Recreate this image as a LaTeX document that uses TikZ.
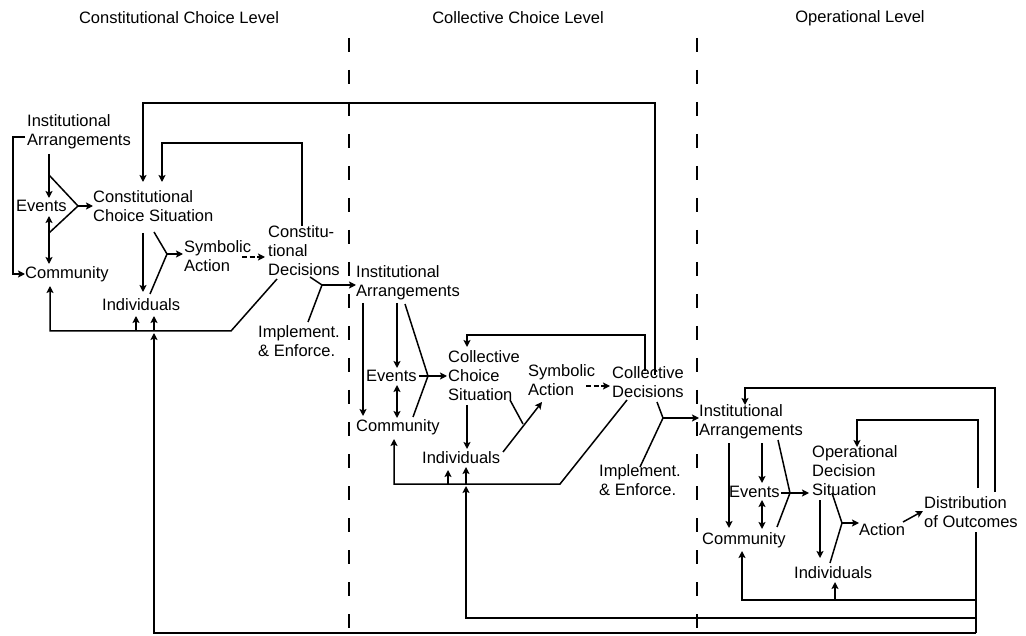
\documentclass[tikz,border=0pt]{standalone}
\usepackage{fontspec}
\setmainfont{Liberation Sans}
\usetikzlibrary{arrows.meta}
\begin{document}
\begin{tikzpicture}[x=1pt,y=-1pt,
  lbl/.style={inner sep=0pt, align=left, font=\fontsize{16.5}{19}\selectfont, anchor=west},
  hdr/.style={inner sep=0pt, font=\fontsize{16.5}{19}\selectfont},
  ln/.style={line width=1.5pt},
  arr/.style={ln, -{Stealth[length=7pt,width=7pt,inset=1.5pt]}},
  darr/.style={ln, {Stealth[length=7pt,width=7pt,inset=1.5pt]}-{Stealth[length=7pt,width=7pt,inset=1.5pt]}},
  brk/.style={ln, dash pattern=on 5pt off 2.5pt, -{Stealth[length=7pt,width=7pt,inset=1.5pt]}},
  lev/.style={line width=1.6pt, dash pattern=on 14pt off 18pt}
]
\useasboundingbox (0,0) rectangle (1026,636);
\fill[white] (0,0) rectangle (1026,636);

% headers
\node[hdr] (h1) at (179,18) {Constitutional Choice Level};
\node[hdr] (h2) at (518,18) {Collective Choice Level};
\node[hdr] (h3) at (860,18) {Operational Level};

% level separators
\coordinate (s1t) at (349,38); \coordinate (s1b) at (349,636);
\coordinate (s2t) at (697,38); \coordinate (s2b) at (697,636);
\draw[lev] (s1t) -- (s1b);
\draw[lev] (s2t) -- (s2b);

% ---------- constitutional level ----------
\node[lbl] (AIA) at (27,132) {Institutional\\Arrangements};
\node[lbl] (AEv) at (16,206) {Events};
\node[lbl] (ACo) at (25,274) {Community};
\node[lbl] (ACS) at (93,206) {Constitutional\\Choice Situation};
\node[lbl] (ASA) at (184,256) {Symbolic\\Action};
\node[lbl] (ACD) at (268,251) {Constitu-\\tional\\Decisions};
\node[lbl] (AIn) at (102,305) {Individuals};
\node[lbl] (AIE) at (258,341) {Implement.\\\& Enforce.};

% ---------- collective level ----------
\node[lbl] (BIA) at (356,283) {Institutional\\Arrangements};
\node[lbl] (BEv) at (366,376) {Events};
\node[lbl] (BCo) at (356,427) {Community};
\node[lbl] (BCS) at (448,376) {Collective\\Choice\\Situation};
\node[lbl] (BSA) at (528,380) {Symbolic\\Action};
\node[lbl] (BCD) at (612,382) {Collective\\Decisions};
\node[lbl] (BIn) at (422,458) {Individuals};
\node[lbl] (BIE) at (599,480) {Implement.\\\& Enforce.};

% ---------- operational level ----------
\node[lbl] (CIA) at (699,422) {Institutional\\Arrangements};
\node[lbl] (CEv) at (729,492) {Events};
\node[lbl] (CCo) at (702,540) {Community};
\node[lbl] (COS) at (812,471) {Operational\\Decision\\Situation};
\node[lbl] (CAc) at (859,530) {Action};
\node[lbl] (CDO) at (924,512) {Distribution\\of Outcomes};
\node[lbl] (CIn) at (794,573) {Individuals};

% ===== constitutional connectors =====
\coordinate (aAp) at (78,206);
\coordinate (aBp) at (167,254);
\coordinate (aCp) at (322,285);
\draw[arr] (25,137) -- (13,137) -- (13,274) -- (ACo.west);
\draw[arr] (49,154) -- (49,198);
\draw[darr] (49,216) -- (49,264);
\draw[ln] (49,175) -- (aAp) -- (49,233);
\draw[arr] (aAp) -- (ACS.west |- aAp);
\draw[arr] (655,375) -- (655,103) -- (143,103) -- (143,182);
\draw[arr] (302,226) -- (302,143) -- (162,143) -- (162,182);
\draw[arr] (143,233) -- (143,292);
\draw[ln] (154,232) -- (aBp) -- (150,294);
\draw[arr] (aBp) -- (183,254);
\draw[brk] (242,257) -- (265,257);
\draw[arr] (277,279) -- (231,331) -- (50,331) -- (50,286);
\draw[arr] (136,331) -- (136,316);
\draw[arr] (154,331) -- (154,316);
\draw[ln] (310,277) -- (aCp) -- (308,322);
\draw[arr] (aCp) -- (BIA.west |- aCp);

% ===== collective connectors =====
\coordinate (bAp) at (428,376);
\coordinate (bBp) at (523,424);
\coordinate (bCp) at (663,418);
\draw[arr] (363,303) -- (363,416);
\draw[arr] (397,303) -- (397,368);
\draw[darr] (397,385) -- (397,418);
\draw[ln] (405,304) -- (bAp) -- (413,417);
\draw[arr] (419,376) -- (447,376);
\draw[arr] (645,371) -- (645,335) -- (467,335) -- (467,347);
\draw[arr] (467,405) -- (467,449);
\draw[ln] (510,400) -- (bBp);
\draw[arr] (503,452) -- (542,402);
\draw[brk] (586,386) -- (610,386);
\draw[arr] (627,400) -- (560,484) -- (394,484) -- (394,439);
\draw[arr] (448,484) -- (448,470);
\draw[arr] (466,484) -- (466,467);
\draw[ln] (657,402) -- (bCp) -- (640,467);
\draw[arr] (bCp) -- (CIA.west |- bCp);

% ===== operational connectors =====
\coordinate (cAp) at (790,493);
\coordinate (cBp) at (842,523);
\draw[arr] (729,443) -- (729,528);
\draw[arr] (762,443) -- (762,483);
\draw[darr] (762,500) -- (762,529);
\draw[ln] (778,440) -- (cAp) -- (777,527);
\draw[arr] (781,493) -- (809,493);
\draw[arr] (995,492) -- (995,388) -- (745,388) -- (745,405);
\draw[arr] (978,488) -- (978,420) -- (857,420) -- (857,447);
\draw[arr] (820,500) -- (820,558);
\draw[ln] (832,493) -- (cBp) -- (830,563);
\draw[arr] (cBp) -- (CAc.west |- cBp);
\draw[arr] (903,522) -- (923,511);

% ===== feedback from outcomes =====
\draw[ln] (976,532) -- (976,633);
\draw[arr] (976,600) -- (742,600) -- (742,551);
\draw[arr] (835,600) -- (835,582);
\draw[arr] (976,618) -- (466,618) -- (466,486);
\draw[arr] (976,633) -- (154,633) -- (154,333);
\end{tikzpicture}
\end{document}
